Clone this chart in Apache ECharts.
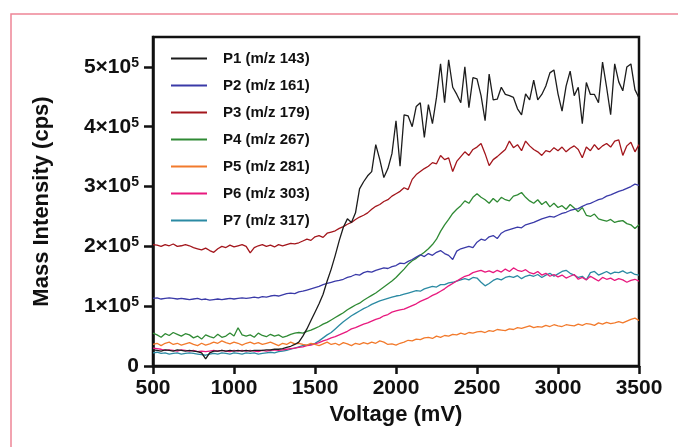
<!DOCTYPE html>
<html>
<head>
<meta charset="utf-8">
<script src="https://cdn.jsdelivr.net/npm/echarts@6/dist/echarts.min.js"></script>
<style>
html, body { margin: 0; padding: 0; background: #fff; }
#chart { width: 678px; height: 447px; }
</style>
</head>
<body>
<div id="chart"></div>
<script>
// voltage steps (mV), intensities in units of 10^3 cps
var voltages = [
    500, 525, 550, 575, 600, 625, 650, 675, 700, 725, 750, 775, 800, 825, 850, 875, 900, 925, 950, 975,
    1000, 1025, 1050, 1075, 1100, 1125, 1150, 1175, 1200, 1225, 1250, 1275, 1300, 1325, 1350, 1375, 1400, 1425, 1450, 1475,
    1500, 1525, 1550, 1575, 1600, 1625, 1650, 1675, 1700, 1725, 1750, 1775, 1800, 1825, 1850, 1875, 1900, 1925, 1950, 1975,
    2000, 2025, 2050, 2075, 2100, 2125, 2150, 2175, 2200, 2225, 2250, 2275, 2300, 2325, 2350, 2375, 2400, 2425, 2450, 2475,
    2500, 2525, 2550, 2575, 2600, 2625, 2650, 2675, 2700, 2725, 2750, 2775, 2800, 2825, 2850, 2875, 2900, 2925, 2950, 2975,
    3000, 3025, 3050, 3075, 3100, 3125, 3150, 3175, 3200, 3225, 3250, 3275, 3300, 3325, 3350, 3375, 3400, 3425, 3450, 3475,
    3500
];
var p1 = [
    27, 26, 25, 27, 26, 25, 27, 26, 25, 26, 25, 24, 22, 12, 22, 25, 25, 26, 25, 26,
    25, 26, 25, 26, 25, 26, 26, 26, 27, 27, 28, 28, 29, 31, 33, 36, 40, 50, 62, 76,
    90, 104, 120, 142, 162, 185, 210, 232, 246, 240, 256, 296, 308, 318, 325, 370, 345, 315, 330, 355,
    410, 334, 420, 418, 400, 434, 440, 382, 437, 405, 449, 505, 440, 512, 466, 454, 440, 500, 432, 482,
    480, 452, 410, 488, 445, 446, 466, 454, 452, 449, 430, 420, 455, 445, 478, 445, 454, 468, 490, 495,
    455, 426, 468, 493, 452, 466, 405, 474, 454, 454, 440, 508, 466, 420, 505, 475, 460, 500, 505, 462,
    448
];
var p2 = [
    113, 114, 112, 113, 114, 113, 112, 113, 112, 111, 112, 113, 111, 112, 110, 111, 112, 111, 112, 113,
    112, 113, 114, 113, 114, 115, 114, 116, 115, 117, 118, 117, 119, 121, 122, 121, 124, 125, 127, 129,
    131, 133, 136, 138, 140, 142, 143, 145, 148, 150, 153, 152, 156, 158, 157, 160, 162, 164, 163, 166,
    168, 172, 171, 175, 178, 182, 186, 183, 188, 185, 190, 193, 188, 185, 178, 192, 196, 198, 200, 198,
    207, 212, 210, 216, 218, 213, 222, 226, 228, 230, 232, 231, 236, 238, 240, 243, 246, 248, 250, 249,
    252, 255, 257, 260, 262, 263, 267, 270, 272, 275, 278, 280, 284, 286, 289, 292, 294, 297, 300, 304,
    302
];
var p3 = [
    203, 202, 200, 203, 201, 204, 200, 201, 203, 201, 198, 196, 194, 197, 193, 190, 196, 200, 198, 202,
    199, 201, 203, 200, 189, 198, 201, 203, 200, 202, 199, 203, 201, 203, 205, 204, 206, 209, 212, 210,
    216, 218, 215, 222, 224, 226, 230, 233, 237, 240, 245, 249, 252, 256, 262, 267, 270, 275, 278, 284,
    288, 292, 298, 295, 312, 320, 325, 330, 334, 340, 338, 352, 345, 348, 325, 342, 350, 358, 352, 362,
    366, 372, 355, 335, 345, 350, 356, 362, 376, 365, 370, 360, 376, 368, 362, 358, 352, 360, 358, 365,
    360, 366, 358, 364, 368, 362, 348, 366, 360, 370, 362, 368, 372, 366, 376, 378, 352, 368, 374, 358,
    370
];
var p4 = [
    55, 52, 48, 54, 51, 56, 53, 50, 54, 52, 47, 50, 45, 52, 49, 47, 53, 48, 50, 55,
    50, 64, 52, 50, 52, 48, 55, 51, 49, 53, 50, 52, 48, 50, 53, 55, 56, 55, 58, 60,
    63, 66, 70, 73, 77, 81, 85, 89, 94, 98, 102, 105, 110, 114, 118, 122, 127, 132, 137, 142,
    148, 155, 162, 170, 176, 180, 185, 190, 196, 203, 212, 225, 236, 245, 255, 262, 268, 276, 272, 282,
    288, 282, 278, 272, 280, 274, 282, 278, 276, 284, 286, 290, 282, 276, 272, 278, 270, 275, 266, 272,
    265, 268, 262, 270, 264, 258, 265, 252, 250, 254, 246, 244, 242, 245, 240, 242, 243, 238, 236, 230,
    236
];
var p5 = [
    36, 38, 34, 38, 40, 36, 38, 35, 37, 39, 36, 34, 38, 35, 37, 40, 38, 42, 39, 37,
    40, 38, 35, 38, 40, 37, 39, 36, 38, 40, 37, 34, 38, 36, 40, 37, 38, 36, 35, 38,
    36, 34, 37, 40, 36, 38, 35, 39, 37, 34, 38, 36, 39, 37, 40, 38, 42, 40, 36, 37,
    35, 38, 40, 43, 42, 45, 44, 47, 48, 46, 50, 48, 51, 50, 53, 52, 55, 53, 56, 55,
    57, 58, 56, 59, 58, 61, 60, 59, 62, 61, 64, 63, 65, 67, 64, 66, 65, 68, 66, 69,
    67, 66, 69, 68, 67, 70, 68, 71, 70, 68, 72, 70, 73, 71, 72, 74, 72, 75, 78, 80,
    76
];
var p6 = [
    30, 29, 28, 26, 27, 26, 25, 27, 26, 25, 26, 24, 25, 24, 25, 26, 25, 26, 25, 24,
    26, 25, 26, 25, 26, 25, 24, 26, 25, 26, 27, 26, 27, 28, 29, 30, 31, 32, 34, 35,
    37, 39, 42, 44, 47, 49, 52, 55, 58, 62, 64, 67, 70, 72, 75, 78, 80, 84, 86, 90,
    92, 94, 95, 98, 101, 104, 108, 111, 114, 118, 121, 125, 129, 134, 138, 142, 146, 150, 152, 156,
    158, 160, 157, 159, 156, 160, 157, 162, 158, 164, 160, 158, 161, 156, 154, 158, 152, 155, 150, 153,
    149, 152, 147, 150, 153, 145, 148, 144, 150, 146, 142, 148, 145, 147, 143, 146, 144, 140, 143, 145,
    142
];
var p7 = [
    22, 23, 21, 22, 20, 21, 22, 20, 21, 22, 21, 20, 19, 18, 20, 21, 20, 22, 21, 20,
    22, 21, 20, 22, 21, 22, 20, 21, 22, 23, 22, 24, 25, 26, 28, 30, 32, 34, 35, 36,
    38, 42, 47, 52, 56, 62, 68, 74, 79, 84, 88, 92, 96, 99, 103, 106, 109, 111, 113, 115,
    117, 118, 120, 122, 124, 126, 125, 129, 131, 133, 132, 136, 136, 139, 140, 142, 144, 146, 144, 148,
    147, 140, 134, 138, 143, 146, 144, 148, 150, 148, 151, 146, 150, 152, 150, 153, 148, 152, 155, 150,
    154, 158, 160, 155, 152, 148, 150, 144, 156, 158, 152, 155, 158, 154, 157, 156, 159, 155, 157, 153,
    152
];

var seriesNames = ["P1 (m/z 143)", "P2 (m/z 161)", "P3 (m/z 179)", "P4 (m/z 267)",
    "P5 (m/z 281)", "P6 (m/z 303)", "P7 (m/z 317)"];
var seriesValues = [p1, p2, p3, p4, p5, p6, p7];
var seriesColors = ["#1c1c1c", "#3a3aa8", "#a3161c", "#2f8a34", "#f27a2c", "#e8197e", "#2b8aa3"];
var yTicks = [0, 100, 200, 300, 400, 500];

var font = "'Liberation Sans', Arial, sans-serif";

var pairUp = function (vals) {
    var res = [];
    for (var i = 0; i < voltages.length; i++) {
        res.push([voltages[i], vals[i]]);
    }
    return res;
};

var series = [];
for (var s = 0; s < seriesNames.length; s++) {
    series.push({
        name: seriesNames[s],
        type: 'line',
        data: pairUp(seriesValues[s]),
        symbol: 'none',
        lineStyle: { width: 1.3, color: seriesColors[s] },
        itemStyle: { color: seriesColors[s] },
        z: 10 - s
    });
}

var myChart = echarts.init(document.getElementById("chart"));
var option = {
    backgroundColor: '#fff',
    animation: false,
    graphic: [{
        type: 'rect',
        shape: { x: 11, y: 14, width: 720, height: 500 },
        style: { fill: 'none', stroke: '#ee8597', lineWidth: 1.5 },
        silent: true
    }],
    grid: {
        left: 153, right: 39, top: 37, bottom: 81,
        show: true, borderColor: '#111', borderWidth: 2.5, backgroundColor: '#fff'
    },
    legend: {
        orient: 'vertical',
        left: 166, top: 46,
        itemWidth: 36, itemHeight: 14, itemGap: 12,
        icon: 'path://M0,0H36V2H0Z',
        textStyle: {
            fontFamily: font, fontWeight: 'bold', fontSize: 15, color: '#111',
            padding: [0, 0, 0, 11], lineHeight: 14
        },
        data: seriesNames
    },
    xAxis: {
        type: 'value',
        min: 500, max: 3500, interval: 500,
        name: 'Voltage (mV)',
        nameLocation: 'middle',
        nameGap: 38,
        nameTextStyle: { fontFamily: font, fontWeight: 'bold', fontSize: 22, color: '#111' },
        axisLine: { lineStyle: { color: '#111', width: 2.5 } },
        axisTick: { length: 8, lineStyle: { color: '#111', width: 2.5 } },
        axisLabel: {
            margin: 12, fontFamily: font, fontWeight: 'bold', fontSize: 21, color: '#111',
            formatter: function (v) { return String(v); }
        },
        splitLine: { show: false }
    },
    yAxis: {
        type: 'value',
        min: 0, max: 550, interval: 100,
        name: 'Mass Intensity (cps)',
        nameLocation: 'middle',
        nameGap: 100,
        nameTextStyle: { fontFamily: font, fontWeight: 'bold', fontSize: 22, color: '#111' },
        axisLine: { lineStyle: { color: '#111', width: 2.5 } },
        axisTick: { length: 9, customValues: yTicks, lineStyle: { color: '#111', width: 2.5 } },
        axisLabel: {
            customValues: yTicks,
            margin: 14,
            formatter: function (v) {
                if (v === 0) return '{b|0}';
                return '{b|' + (v / 100) + '×10}{s|5}';
            },
            rich: {
                b: { fontFamily: font, fontWeight: 'bold', fontSize: 21, color: '#111', lineHeight: 22 },
                s: { fontFamily: font, fontWeight: 'bold', fontSize: 14, color: '#111', lineHeight: 12, verticalAlign: 'top' }
            }
        },
        splitLine: { show: false }
    },
    series: series
};
myChart.setOption(option);
</script>
</body>
</html>
